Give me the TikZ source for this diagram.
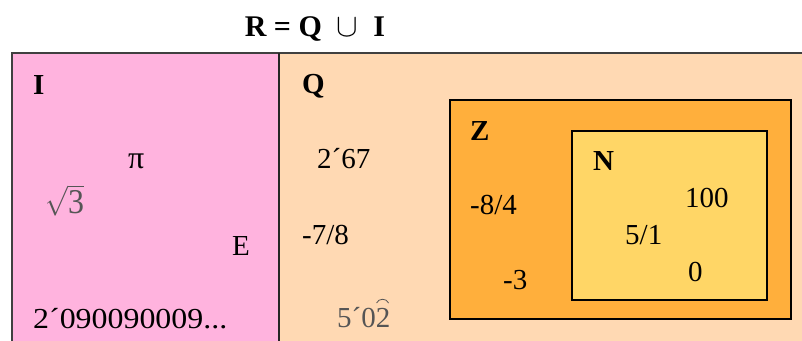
\documentclass[tikz,border=0pt]{standalone}
\usepackage{fontspec}
\usepackage{graphicx}
\setmainfont{Liberation Serif}
\usetikzlibrary{calc}
\definecolor{pinkI}{RGB}{255,179,222}
\definecolor{peachQ}{RGB}{255,217,179}
\definecolor{orangeZ}{RGB}{255,175,60}
\definecolor{yellowN}{RGB}{255,214,102}
\definecolor{greytxt}{RGB}{85,85,85}
\begin{document}
\begin{tikzpicture}[x=1pt,y=-1pt,
  lbl/.style={font=\fontsize{29}{29}\selectfont\bfseries, anchor=base west, inner sep=0pt},
  num/.style={font=\fontsize{29}{29}\selectfont, anchor=base west, inner sep=0pt},
  setbox/.style={draw=black, line width=1.5pt, anchor=north west, inner sep=0pt}]
\useasboundingbox (0,0) rectangle (802,340);
\begin{scope}
\clip (0,0) rectangle (802,340);
\fill[pinkI] (12,53) rectangle (279,360);
\fill[peachQ] (279,53) rectangle (830,360);
\draw[line width=1.5pt, draw=black!75] (12,360) -- (12,53) -- (830,53);
\draw[line width=2pt, draw=black!85] (279,53) -- (279,360);
\end{scope}
\node (Zbox) [setbox, fill=orangeZ, minimum width=341pt, minimum height=219pt] at (449,99) {};
\node (Nbox) [setbox, fill=yellowN, minimum width=195pt, minimum height=169pt] at (571,130) {};
% title
\node (title) [font=\fontsize{30}{30}\selectfont\bfseries, anchor=base, inner sep=0pt] at (315,36) {R = Q \ \scalebox{1.3}{$\cup$}\ \ I};
% I
\node (labI) [lbl] at (33,94) {I};
\node (pi) [num] at (128,168) {\scalebox{1.1}{π}};
\node (sq3) [num, text=greytxt] at (45,213) {\scalebox{1.1}[1.2]{$\sqrt{\mbox{3}}$}};
\node (e) [num] at (232,255) {E};
\node (irr) [num] at (33,328) {\scalebox{1.1}[1]{2´090090009...}};
% Q
\node (labQ) [lbl] at (302,93) {Q};
\node (q267) [num] at (317,168) {2´67};
\node (q78) [num] at (302,244) {-7/8};
\node (r502) [num, text=greytxt] at (337,327) {5´02};
\draw[greytxt, line width=0.8pt] ($(r502.base east)+(-14pt,24pt)$) .. controls +(2pt,5pt) and +(-2pt,5pt) .. ($(r502.base east)+(-2pt,24pt)$);
% Z
\node (labZ) [lbl] at (470,140) {Z};
\node (z84) [num] at (470,214) {-8/4};
\node (z3) [num] at (503,289) {-3};
% N
\node (labN) [lbl] at (593,170) {N};
\node (n100) [num] at (685,207) {100};
\node (n51) [num] at (625,244) {5/1};
\node (n0) [num] at (688,281) {0};
\end{tikzpicture}
\end{document}
